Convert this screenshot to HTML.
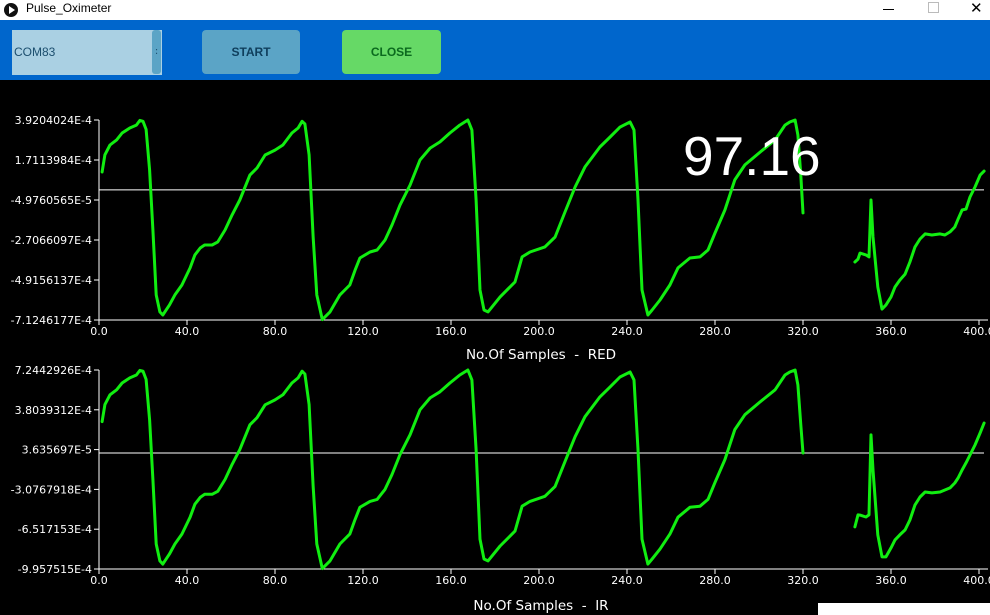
<!DOCTYPE html>
<html><head><meta charset="utf-8">
<style>
body{margin:0;width:990px;height:615px;overflow:hidden;background:#000;font-family:"DejaVu Sans","Liberation Sans",sans-serif;position:relative}
#title{position:absolute;left:0;top:0;width:990px;height:20px;background:#fff}
#bar{position:absolute;left:0;top:20px;width:990px;height:60px;background:#0066cc}
.btn{position:absolute;top:10px;height:44px;border-radius:4px;font:bold 12px "Liberation Sans",sans-serif;display:flex;align-items:center;justify-content:center}
text{white-space:pre}
</style></head><body>
<div id="title">
 <div style="position:absolute;left:4px;top:3px;width:14px;height:14px;border-radius:50%;background:#111"><div style="position:absolute;left:5px;top:3px;border-left:6px solid #fff;border-top:4px solid transparent;border-bottom:4px solid transparent"></div></div>
 <div style="position:absolute;left:26px;top:1px;font:12px 'Liberation Sans',sans-serif;color:#000">Pulse_Oximeter</div>
 <div style="position:absolute;left:883px;top:9px;width:11px;height:1px;background:#000"></div>
 <div style="position:absolute;left:928px;top:2px;width:9px;height:9px;border:1px solid #bbb"></div>
 <div style="position:absolute;left:970px;top:-1px;font:15px 'Liberation Sans',sans-serif;color:#000">✕</div>
</div>
<div id="bar">
 <div style="position:absolute;left:12px;top:10px;width:150px;height:45px;background:#aad0e3">
  <div style="position:absolute;left:2px;top:15px;font:12px 'Liberation Sans',sans-serif;color:#1c4e6e">COM83</div>
  <div style="position:absolute;left:140px;top:0;width:9px;height:44px;background:#5ba4c6;border-radius:3px;color:#1c4e6e;font-size:10px;text-align:center;line-height:44px">:</div>
 </div>
 <div class="btn" style="left:202px;width:98px;background:#5ba4c6;color:#0f3e5c">START</div>
 <div class="btn" style="left:342px;width:99px;background:#66d966;color:#0b6a1e">CLOSE</div>
</div>
<svg id="chart" width="990" height="615" style="position:absolute;left:0;top:0"></svg>
<div style="position:absolute;left:683px;top:124px;font:55px 'Liberation Sans',sans-serif;color:#fff;line-height:64px">97.16</div>
<div style="position:absolute;left:818px;top:603px;width:172px;height:12px;background:#fff"></div>
<script>
const xTicks=[0,40,80,120,160,200,240,280,320,360,400];
const redTicks=["3.9204024E-4","1.7113984E-4","-4.9760565E-5","-2.7066097E-4","-4.9156137E-4","-7.1246177E-4"];
const irTicks=["7.2442926E-4","3.8039312E-4","3.635697E-5","-3.0767918E-4","-6.517153E-4","-9.957515E-4"];
const redMin=-7.1246177,redMax=3.9204024,irMin=-9.957515,irMax=7.2442926;
const redBaseline=0.06,irBaseline=0.07;
// RED series (values ×1e-4), two segments
const redX1=[1.4,2.7,5,8,10.5,14,17,18.6,20,21.4,23,24.5,26,27.7,29,32,34.5,37.7,41.4,43.6,46,48,51.4,54,57.3,60.5,64,68.6,71.8,75.5,80,83.6,87.7,90.5,92.3,93.6,95.5,97.3,99,101.5,105,109.5,114,116.4,118.6,123.2,126.4,130,133.2,136.8,141.4,145.9,150.5,155,159.5,164,167.7,169.5,171.4,173.2,175,176.8,182.3,189.1,192.3,195.9,202.7,207.3,211.8,216.4,220.9,227.7,232.3,236.8,241.4,243.2,245,246.8,249.5,251.4,255,259.5,263.2,268.6,273.2,276.8,280,284.5,289,293.6,300.5,307.3,311.8,314,316.4,317.7,319,320];
const redY1=[1.05,2.0,2.54,2.82,3.2,3.48,3.64,3.9,3.85,3.4,1.16,-2.15,-5.74,-6.68,-6.85,-6.3,-5.74,-5.19,-4.25,-3.53,-3.15,-2.98,-2.98,-2.81,-2.15,-1.32,-0.5,0.88,1.27,1.99,2.26,2.54,3.2,3.48,3.85,3.7,2.0,-2.5,-5.74,-7.1,-6.68,-5.74,-5.19,-4.37,-3.7,-3.37,-3.26,-2.71,-1.88,-0.78,0.33,1.71,2.37,2.71,3.2,3.64,3.92,3.37,-0.5,-5.47,-6.57,-6.68,-5.85,-5.02,-3.64,-3.37,-3.09,-2.54,-1.16,0.22,1.33,2.43,2.98,3.53,3.81,3.37,-0.5,-5.47,-6.85,-6.57,-6.02,-5.19,-4.25,-3.7,-3.64,-3.26,-2.32,-1.05,0.61,1.44,2.15,2.82,3.64,3.81,3.92,3.09,0.88,-1.21];
const redX2=[343.6,345,345.9,348.6,350,350.9,351.8,354,355.9,357.7,360,361.8,364,366.4,368.6,370.9,373.2,375.5,378.6,382.3,384.5,386.8,389,390.5,392.3,394.1,395.9,398.2,400.5,402.3];
const redY2=[-3.92,-3.76,-3.43,-3.53,-3.64,-0.5,-2.54,-5.3,-6.52,-6.3,-5.85,-5.3,-4.92,-4.59,-3.92,-3.09,-2.65,-2.37,-2.43,-2.37,-2.43,-2.26,-1.99,-1.55,-1.05,-1.0,-0.33,0.22,0.88,1.1];
// IR series
const irY1=[2.78,4.25,5.1,5.53,6.12,6.56,6.81,7.21,7.14,6.43,2.95,-2.21,-7.8,-9.26,-9.53,-8.67,-7.8,-6.94,-5.48,-4.36,-3.77,-3.5,-3.5,-3.24,-2.21,-0.92,0.36,2.51,3.12,4.24,4.66,5.1,6.12,6.56,7.14,6.9,4.25,-2.75,-7.8,-9.92,-9.26,-7.8,-6.94,-5.67,-4.62,-4.11,-3.94,-3.08,-1.79,-0.07,1.65,3.8,4.83,5.36,6.12,6.81,7.24,6.39,0.36,-7.38,-9.09,-9.26,-7.97,-6.68,-4.53,-4.11,-3.67,-2.82,-0.67,1.48,3.21,4.92,5.78,6.64,7.07,6.39,0.36,-7.38,-9.53,-9.09,-8.24,-6.94,-5.48,-4.62,-4.53,-3.94,-2.47,-0.5,2.09,3.38,4.49,5.53,6.81,7.07,7.24,5.95,2.51,0.07];
const irY2=[-6.32,-5.28,-5.3,-5.46,-5.28,1.63,-1.4,-7.01,-8.91,-8.91,-8.13,-7.44,-7.01,-6.58,-5.72,-4.42,-3.73,-3.3,-3.38,-3.3,-3.13,-2.95,-2.52,-2.09,-1.4,-0.79,-0.1,0.76,1.8,2.66];

const svg=document.getElementById('chart');const NS='http://www.w3.org/2000/svg';
function mk(t,a,txt){const e=document.createElementNS(NS,t);for(const k in a)e.setAttribute(k,a[k]);if(txt!==undefined)e.textContent=txt;svg.appendChild(e);return e;}
const X0=99,X1=979;
function xs(v){return X0+(v/400)*(X1-X0);}
function panel(name,top,bot,mn,mx,ticks,base,xa,ya,xb,yb,label,lblY){
 const ys=v=>bot-(v-mn)/(mx-mn)*(bot-top);
 let e=mk('line',{x1:X0,y1:top,x2:X0,y2:bot,stroke:'#fff','stroke-width':1});
 
 e=mk('line',{x1:X0,y1:bot,x2:988,y2:bot,stroke:'#fff','stroke-width':1});
 
 ticks.forEach((t,i)=>{const y=top+i*(bot-top)/(ticks.length-1);
  mk('line',{x1:X0-5,y1:y,x2:X0,y2:y,stroke:'#fff'});
  e=mk('text',{x:X0-7,y:y+4,'text-anchor':'end',fill:'#fff','font-size':'11','font-family':'DejaVu Sans, sans-serif'},t);
  });
 xTicks.forEach(t=>{const x=xs(t);
  mk('line',{x1:x,y1:bot,x2:x,y2:bot+5,stroke:'#fff'});
  e=mk('text',{x:x,y:bot+15,'text-anchor':'middle',fill:'#fff','font-size':'11','font-family':'DejaVu Sans, sans-serif'},t.toFixed(1));
  });
 e=mk('line',{x1:X0,y1:ys(base),x2:984,y2:ys(base),stroke:'#fff','stroke-width':1});
 
 [[xa,ya],[xb,yb]].forEach(([xx,yy],k)=>{
  const d=xx.map((v,i)=>(i?'L':'M')+xs(v).toFixed(1)+','+ys(yy[i]).toFixed(1)).join('');
  const p=mk('path',{d:d,fill:'none',stroke:'#11ee11','stroke-width':3,'stroke-linejoin':'round','stroke-linecap':'round'});
  
  });
 e=mk('text',{x:541,y:lblY,'text-anchor':'middle',fill:'#fff','font-size':'13.5','font-family':'DejaVu Sans, sans-serif'},label);
 
}
panel('red',120,320,redMin,redMax,redTicks,redBaseline,redX1,redY1,redX2,redY2,'No.Of Samples  -  RED',359);
panel('ir',370,569,irMin,irMax,irTicks,irBaseline,redX1,irY1,redX2,irY2,'No.Of Samples  -  IR',610);
</script>
</body></html>
